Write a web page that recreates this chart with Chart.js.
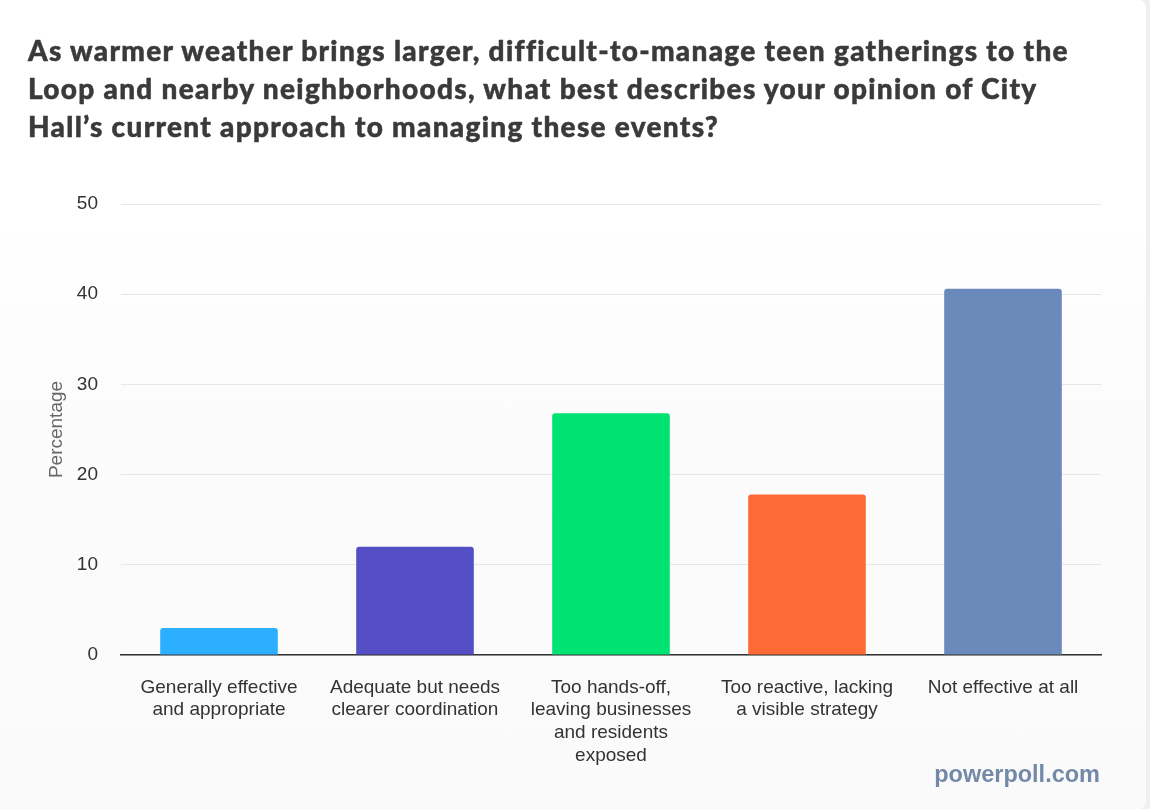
<!DOCTYPE html>
<html>
<head>
<meta charset="utf-8">
<script src="https://cdn.jsdelivr.net/npm/chart.js@4"></script>
<style>
  html, body { margin: 0; padding: 0; }
  body { width: 1150px; height: 809px; background: #f0f0f0; overflow: hidden; position: relative; }
  #card { position: absolute; left: 0; top: 0; width: 1146px; height: 809px; border-radius: 0 8px 8px 0;
          background: linear-gradient(to bottom, #ffffff 0%, #ffffff 28%, #fcfcfc 45%, #fafafa 100%); }
  #title { position: absolute; left: 28px; top: 31px; margin: 0; font-family: Lato, "Liberation Sans", sans-serif;
           font-weight: 900; font-size: 28px; line-height: 38px; letter-spacing: 1.3px; color: #3a3a3a; white-space: nowrap;
           -webkit-text-stroke: 0.5px #3a3a3a; }
  #wm { position: absolute; right: 50px; top: 761px; font-family: "Liberation Sans", Arial, sans-serif; font-weight: bold;
        font-size: 23.5px; color: #7489a8; }
  #wrap { position: absolute; left: 0; top: 0; width: 1150px; height: 809px; }
</style>
</head>
<body>
<div id="card"></div>
<div id="wrap"><canvas id="c"></canvas></div>
<h1 id="title">As warmer weather brings larger, difficult-to-manage teen gatherings to the<br>Loop and nearby neighborhoods, what best describes your opinion of City<br>Hall’s current approach to managing these events?</h1>
<div id="wm">powerpoll.com</div>
<script>
const categories = [
  ["Generally effective", "and appropriate"],
  ["Adequate but needs", "clearer coordination"],
  ["Too hands-off,", "leaving businesses", "and residents", "exposed"],
  ["Too reactive, lacking", "a visible strategy"],
  ["Not effective at all"]
];
const percentages = [3.0, 12.0, 26.8, 17.8, 40.6];
const barColors = ["#2caffe", "#544fc5", "#00e272", "#fe6a35", "#6b8abc"];
const yTicks = [0, 10, 20, 30, 40, 50];

const FONT = '"Liberation Sans", Arial, sans-serif';

new Chart(document.getElementById('c'), {
  type: 'bar',
  data: {
    labels: categories,
    datasets: [{
      data: percentages,
      backgroundColor: barColors,
      borderWidth: 0,
      borderRadius: { topLeft: 3, topRight: 3, bottomLeft: 0, bottomRight: 0 },
      borderSkipped: 'bottom',
      barPercentage: 0.6,
      categoryPercentage: 1.0
    }]
  },
  options: {
    responsive: true,
    maintainAspectRatio: false,
    animation: false,
    layout: { padding: { left: 45, right: 49, top: 204, bottom: 0 } },
    plugins: { legend: { display: false }, tooltip: { enabled: false }, title: { display: false } },
    scales: {
      x: {
        grid: { display: false, drawTicks: false },
        border: { display: true, color: '#333333', width: 1.5 },
        ticks: { color: '#333333', font: { family: FONT, size: 19, lineHeight: 1.2 }, padding: 21, maxRotation: 0, autoSkip: false },
        afterFit: (s) => { s.height = 154; }
      },
      y: {
        min: 0, max: 50,
        afterBuildTicks: (s) => { s.ticks = yTicks.map(v => ({ value: v })); },
        grid: { color: '#e6e6e6', lineWidth: 1, drawTicks: false },
        border: { display: false },
        ticks: { color: '#333333', font: { family: FONT, size: 19 }, padding: 23 },
        title: { display: true, text: 'Percentage', color: '#666666', font: { family: FONT, size: 19, lineHeight: 1.2 }, padding: 0 },
        afterFit: (s) => { s.width = 76; }
      }
    }
  }
});
</script>
</body>
</html>
